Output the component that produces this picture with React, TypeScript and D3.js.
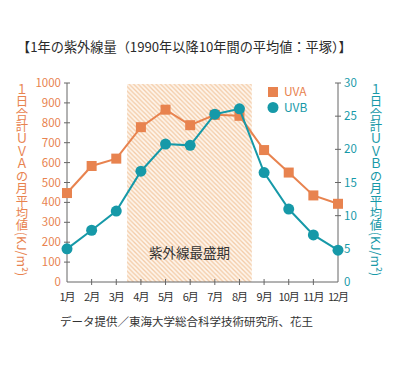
import React from "react";
import * as d3 from "d3";

const months = ["1月", "2月", "3月", "4月", "5月", "6月", "7月", "8月", "9月", "10月", "11月", "12月"];
const uva = [447, 583, 620, 778, 866, 788, 840, 835, 663, 550, 435, 393];
const uvb = [5.0, 7.8, 10.7, 16.7, 20.8, 20.6, 25.3, 26.1, 16.5, 11.0, 7.1, 4.8];
const uvaTicks = [0, 100, 200, 300, 400, 500, 600, 700, 800, 900, 1000];
const uvbTicks = [0, 5, 10, 15, 20, 25, 30];
const peakStart = 3; // between 3月 and 4月
const peakEnd = 8; // between 8月 and 9月

const ORANGE = "#E8834F";
const TEAL = "#1699A8";
const AXIS = "#666";
const FONT = "'Noto Sans CJK JP', 'Noto Sans', sans-serif";

function App() {
  const width = 400;
  const height = 369;
  const margin = { top: 83, right: 62, bottom: 87, left: 67 };

  const x = d3
    .scalePoint<string>()
    .domain(months)
    .range([margin.left, width - margin.right])
    .padding(0);
  const step = x.step();

  const yA = d3.scaleLinear().domain([0, 1000]).range([height - margin.bottom, margin.top]);
  const yB = d3.scaleLinear().domain([0, 30]).range([height - margin.bottom, margin.top]);

  const lineA = d3
    .line<number>()
    .x((_, i) => x(months[i])!)
    .y((d) => yA(d));
  const lineB = d3
    .line<number>()
    .x((_, i) => x(months[i])!)
    .y((d) => yB(d));

  const x0 = margin.left;
  const x1 = width - margin.right;
  const yBase = height - margin.bottom;
  const shadeL = x(months[peakStart - 1])! + step / 2 - 1.5;
  const shadeR = x(months[peakEnd - 1])! + step / 2;

  return (
    <svg
      width={width}
      height={height}
      style={{ position: "absolute", left: 0, top: 0, background: "#fff" }}
      fontFamily={FONT}
    >
      <defs>
        <pattern id="hatch" patternUnits="userSpaceOnUse" width={4.5} height={4.5}>
          <rect width={4.5} height={4.5} fill="#FEF5EC" />
          <path d="M0,0 L4.5,4.5 M-1,3.5 L1,5.5 M3.5,-1 L5.5,1" stroke="#F3CBA6" strokeWidth={1.3} />
        </pattern>
      </defs>

      {/* Title */}
      <text x={17} y={52} fontSize={13.2} fill="#2a2a2a">
        【1年の紫外線量（1990年以降10年間の平均値：平塚）】
      </text>

      {/* Peak period */}
      <rect x={shadeL} y={margin.top + 1} width={shadeR - shadeL} height={yBase - margin.top - 1} fill="url(#hatch)" />
      <text x={(shadeL + shadeR) / 2} y={258} textAnchor="middle" fontSize={13.5} fill="#333">
        紫外線最盛期
      </text>

      {/* Axes */}
      <line x1={x0} x2={x0} y1={margin.top} y2={yBase} stroke={AXIS} />
      <line x1={x1} x2={x1} y1={margin.top} y2={yBase} stroke={AXIS} />
      <line x1={x0} x2={x1} y1={yBase} y2={yBase} stroke={AXIS} />

      {uvaTicks.map((t) => (
        <g key={"a" + t}>
          {t > 0 && <line x1={x0 - 3} x2={x0 + 3} y1={yA(t)} y2={yA(t)} stroke={AXIS} />}
          <text x={x0 - 6} y={yA(t)} dy="0.35em" textAnchor="end" fontSize={11.5} fill={ORANGE}>
            {t}
          </text>
        </g>
      ))}
      {uvbTicks.map((t) => (
        <g key={"b" + t}>
          {t > 0 && <line x1={x1 - 3} x2={x1 + 3} y1={yB(t)} y2={yB(t)} stroke={AXIS} />}
          <text x={x1 + 6} y={yB(t)} dy="0.35em" textAnchor="start" fontSize={11.5} fill={TEAL}>
            {t}
          </text>
        </g>
      ))}
      {months.map((m, i) => (
        <g key={m}>
          {i > 0 && i < months.length - 1 && (
            <line x1={x(m)} x2={x(m)} y1={yBase - 3} y2={yBase + 3} stroke={AXIS} />
          )}
          <text x={x(m)} y={yBase + 19} textAnchor="middle" fontSize={11} letterSpacing={-1} fill="#333">
            {m}
          </text>
        </g>
      ))}

      {/* Axis titles */}
      <text x={22} y={83} fontSize={12.4} fill={ORANGE} style={{ writingMode: "vertical-rl" }}>
        １日合計ＵＶＡの月平均値(KJ/m²)
      </text>
      <text x={376} y={83} fontSize={12.4} fill={TEAL} style={{ writingMode: "vertical-rl" }}>
        １日合計ＵＶＢの月平均値(KJ/m²)
      </text>

      {/* UVA */}
      <path d={lineA(uva)!} fill="none" stroke={ORANGE} strokeWidth={2} />
      {uva.map((v, i) => (
        <rect key={"ua" + i} x={x(months[i])! - 5} y={yA(v) - 5} width={10} height={10} fill={ORANGE} />
      ))}

      {/* UVB */}
      <path d={lineB(uvb)!} fill="none" stroke={TEAL} strokeWidth={2} />
      {uvb.map((v, i) => (
        <circle key={"ub" + i} cx={x(months[i])} cy={yB(v)} r={5.5} fill={TEAL} />
      ))}

      {/* Legend */}
      <rect x={268} y={87} width={10} height={10} fill={ORANGE} />
      <text x={284} y={92} dy="0.35em" fontSize={12} fill={ORANGE}>UVA</text>
      <circle cx={273} cy={107.5} r={5.5} fill={TEAL} />
      <text x={284} y={108} dy="0.35em" fontSize={12} fill={TEAL}>UVB</text>

      {/* Source */}
      <text x={60} y={326} fontSize={11.5} fill="#333">
        データ提供／東海大学総合科学技術研究所、花王
      </text>
    </svg>
  );
}

export default App;
